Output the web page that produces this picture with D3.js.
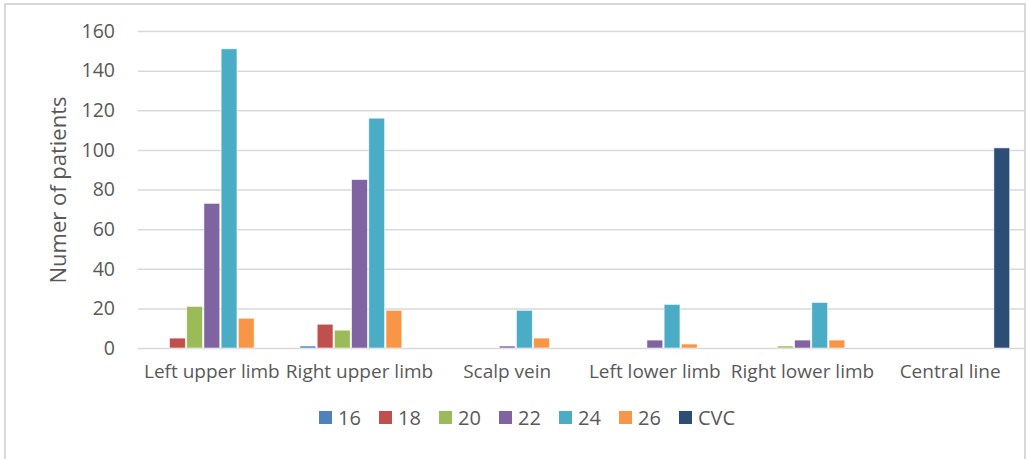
<!DOCTYPE html>
<html>
<head>
<meta charset="utf-8">
<script src="https://cdn.jsdelivr.net/npm/d3@7"></script>
<style>
  html, body { margin: 0; padding: 0; background: #fff; }
  svg { display: block; }
  text { font-family: "Open Sans", "Noto Sans", sans-serif; fill: #595959; }
</style>
</head>
<body>
<svg id="chart" width="1028" height="459"></svg>
<script>
const categories = ["Left upper limb", "Right upper limb", "Scalp vein", "Left lower limb", "Right lower limb", "Central line"];
const seriesNames = ["16", "18", "20", "22", "24", "26", "CVC"];
const s16  = [0, 1, 0, 0, 0, 0];
const s18  = [5, 12, 0, 0, 0, 0];
const s20  = [21, 9, 0, 0, 1, 0];
const s22  = [73, 85, 1, 4, 4, 0];
const s24  = [151, 116, 19, 22, 23, 0];
const s26  = [15, 19, 5, 2, 4, 0];
const sCVC = [0, 0, 0, 0, 0, 101];
const yTicks = [0, 20, 40, 60, 80, 100, 120, 140, 160];
const colors = ["#4F81BD", "#C0504D", "#9BBB59", "#8064A2", "#4BACC6", "#F79646", "#2C4D75"];
const yTitle = "Numer of patients";

const seriesValues = [s16, s18, s20, s22, s24, s26, sCVC];

const svg = d3.select("#chart");
const plot = { left: 138, right: 1024, top: 31, bottom: 348 };

// chart border
svg.append("rect")
  .attr("x", 5).attr("y", 4)
  .attr("width", 1020).attr("height", 470)
  .attr("fill", "none").attr("stroke", "#D9D9D9").attr("stroke-width", 2);

const y = d3.scaleLinear().domain([0, 160]).range([plot.bottom, plot.top]);
const x0 = d3.scaleBand().domain(categories).range([plot.left, plot.right])
  .paddingInner(0.175).paddingOuter(0.0875);
const x1 = d3.scaleBand().domain(seriesNames).range([0, x0.bandwidth()]).padding(0.08);

// gridlines
const gy = svg.append("g").attr("transform", `translate(${plot.left},0)`)
  .call(d3.axisLeft(y).tickValues(yTicks).tickSize(-(plot.right - plot.left)).tickFormat(""));
gy.select(".domain").remove();
gy.selectAll(".tick line").attr("stroke", "#D9D9D9").attr("stroke-width", 1.5);

// y tick labels
const ya = svg.append("g").attr("transform", `translate(${plot.left},0)`)
  .call(d3.axisLeft(y).tickValues(yTicks).tickSize(0).tickPadding(23));
ya.select(".domain").remove();
ya.selectAll("text").style("font-size", "19.5px").attr("fill", "#595959")
  .style("font-family", "'Open Sans', sans-serif");

// bars
const groups = svg.append("g").selectAll("g").data(categories).join("g")
  .attr("transform", d => `translate(${x0(d)},0)`);
groups.selectAll("rect")
  .data((c, ci) => seriesNames.map((s, si) => ({ s, si, v: seriesValues[si][ci] })))
  .join("rect")
  .filter(d => d.v > 0)
  .attr("x", d => x1(d.s))
  .attr("y", d => y(d.v))
  .attr("width", x1.bandwidth())
  .attr("height", d => y(0) - y(d.v))
  .attr("fill", d => colors[d.si])
  .attr("stroke", "#ffffff").attr("stroke-width", 0.8).attr("stroke-opacity", 0.7);

// x axis labels
const xa = svg.append("g").attr("transform", `translate(0,${plot.bottom})`)
  .call(d3.axisBottom(x0).tickSize(0).tickPadding(17));
xa.select(".domain").remove();
xa.selectAll("text").style("font-size", "19px").attr("fill", "#595959")
  .style("font-family", "'Open Sans', sans-serif");

// y title
svg.append("text")
  .attr("transform", `translate(66,${(95 + 285) / 2}) rotate(-90)`)
  .attr("text-anchor", "middle")
  .style("font-size", "22px")
  .text(yTitle);

// legend
const legendX = 319, legendStep = 60;
const lg = svg.append("g").selectAll("g").data(seriesNames).join("g")
  .attr("transform", (d, i) => `translate(${legendX + i * legendStep},411)`);
lg.append("rect").attr("width", 13).attr("height", 13).attr("fill", (d, i) => colors[i]);
lg.append("text").attr("x", 19).attr("y", 13.5).style("font-size", "20px").text(d => d);
</script>
</body>
</html>
